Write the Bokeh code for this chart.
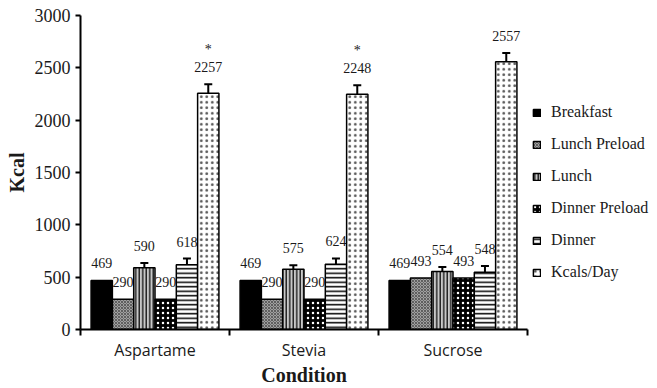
import numpy as np
from bokeh.plotting import figure
from bokeh.models import (ColumnDataSource, Range1d, FixedTicker, SingleIntervalTicker,
                          Legend, LegendItem, Whisker, TeeHead)
from bokeh.transform import dodge
from bokeh.core.properties import value
from bokeh.embed import file_html
from bokeh.resources import INLINE

groups = ["Aspartame", "Stevia", "Sucrose"]
series = ["Breakfast", "Lunch Preload", "Lunch", "Dinner Preload", "Dinner", "Kcals/Day"]
breakfast = [469, 469, 469]
lunch_preload = [290, 290, 493]
lunch = [590, 575, 554]
dinner_preload = [290, 290, 493]
dinner = [618, 624, 548]
kcals_day = [2257, 2248, 2557]
lunch_err = [45, 40, 43]
dinner_err = [60, 55, 58]
kcals_err = [85, 85, 85]
kcals_sig = ["*", "*", ""]
y_ticks_interval = 500

values = [breakfast, lunch_preload, lunch, dinner_preload, dinner, kcals_day]
errors = [None, None, lunch_err, None, dinner_err, kcals_err]
stars = [None, None, None, None, None, kcals_sig]

styles = [
    dict(fill_color="black"),
    dict(fill_color="#a0a0a0", hatch_pattern="diagonal_cross", hatch_color="#444444", hatch_scale=3, hatch_weight=0.7),
    dict(fill_color="#c8c8c8", hatch_pattern="vertical_line", hatch_color="black", hatch_scale=3.5, hatch_weight=1.2),
    dict(fill_color="black", hatch_pattern="dot", hatch_color="white", hatch_scale=5, hatch_weight=1.6),
    dict(fill_color="white", hatch_pattern="horizontal_line", hatch_color="black", hatch_scale=4.5, hatch_weight=1.5),
    dict(fill_color="white", hatch_pattern="dot", hatch_color="#555555", hatch_scale=5.5, hatch_weight=0.45),
]

serif = "Liberation Serif"
txt = "#1a1a1a"
gx = np.arange(len(groups)) + 0.5
bar_w = 0.143

p = figure(frame_width=447, frame_height=314, output_backend="svg", toolbar_location=None,
           x_range=Range1d(0, len(groups)), y_range=Range1d(0, 3000),
           min_border_left=80, min_border_right=120, min_border_top=15, min_border_bottom=50)
p.outline_line_color = None
p.xgrid.visible = False
p.ygrid.visible = False
p.background_fill_color = "white"

items = []
for i, (name, vals) in enumerate(zip(series, values)):
    off = (i - (len(series) - 1) / 2) * bar_w
    err = errors[i]
    top = [v + (e if err else 0) for v, e in zip(vals, err if err else [0] * len(vals))]
    data = dict(gx=gx, val=vals, top=top, lab=[str(v) for v in vals])
    if err:
        data["upper"] = [v + e for v, e in zip(vals, err)]
        data["lower"] = [v - e for v, e in zip(vals, err)]
    if stars[i]:
        data["star"] = stars[i]
    src = ColumnDataSource(data)
    r = p.vbar(x=dodge("gx", off, range=p.x_range), top="val", bottom=0, width=bar_w,
               source=src, line_color="black", line_width=1.5, **styles[i])
    items.append(LegendItem(label=name, renderers=[r]))
    if err:
        w = Whisker(base=dodge("gx", off, range=p.x_range), upper="upper", lower="lower",
                    source=src, line_width=2, line_color="black",
                    upper_head=TeeHead(size=8, line_width=2, line_color="black"),
                    lower_head=TeeHead(size=8, line_width=2, line_color="black"))
        p.add_layout(w)
    p.text(x=dodge("gx", off, range=p.x_range), y="top", text="lab", source=src,
           text_align="center", text_baseline="bottom", y_offset=-12,
           text_font=value(serif), text_font_size="14px", text_color=txt)
    if stars[i]:
        p.text(x=dodge("gx", off, range=p.x_range), y="top", text="star", source=src,
               text_align="center", text_baseline="bottom", y_offset=-27,
               text_font=value(serif), text_font_size="14px", text_color=txt)

# x axis
xa = p.xaxis[0]
xa.ticker = FixedTicker(ticks=list(gx), minor_ticks=list(range(len(groups) + 1)))
xa.major_label_overrides = {float(g): name for g, name in zip(gx, groups)}
xa.major_tick_in = 0
xa.major_tick_out = 0
xa.minor_tick_in = 0
xa.minor_tick_out = 6
xa.minor_tick_line_width = 2
xa.axis_line_width = 2
xa.major_label_text_font = "Open Sans"
xa.major_label_text_font_size = "16px"
xa.major_label_text_color = txt
xa.major_label_standoff = 3
xa.axis_label = "Condition"
xa.axis_label_text_font = serif
xa.axis_label_text_font_style = "bold"
xa.axis_label_text_font_size = "20px"
xa.axis_label_text_color = txt
xa.axis_label_standoff = 0

ya = p.yaxis[0]
ya.ticker = SingleIntervalTicker(interval=y_ticks_interval, num_minor_ticks=0)
ya.major_tick_in = 0
ya.major_tick_out = 5
ya.major_tick_line_width = 2
ya.minor_tick_out = 0
ya.minor_tick_in = 0
ya.axis_line_width = 2
ya.major_label_text_font = serif
ya.major_label_text_font_size = "18px"
ya.major_label_text_color = txt
ya.major_label_standoff = 5
ya.axis_label = "Kcal"
ya.axis_label_text_font = serif
ya.axis_label_text_font_style = "bold"
ya.axis_label_text_font_size = "20px"
ya.axis_label_text_color = txt
ya.axis_label_standoff = 4

legend = Legend(items=items, location=(5, 47), orientation="vertical",
                label_text_font=serif, label_text_font_size="16px", label_text_color=txt,
                glyph_width=9, glyph_height=9, label_height=20, label_standoff=10,
                spacing=12, padding=2, margin=0,
                border_line_color=None, background_fill_alpha=0)
p.add_layout(legend, "right")

open("out.html", "w").write(file_html(p, INLINE))
